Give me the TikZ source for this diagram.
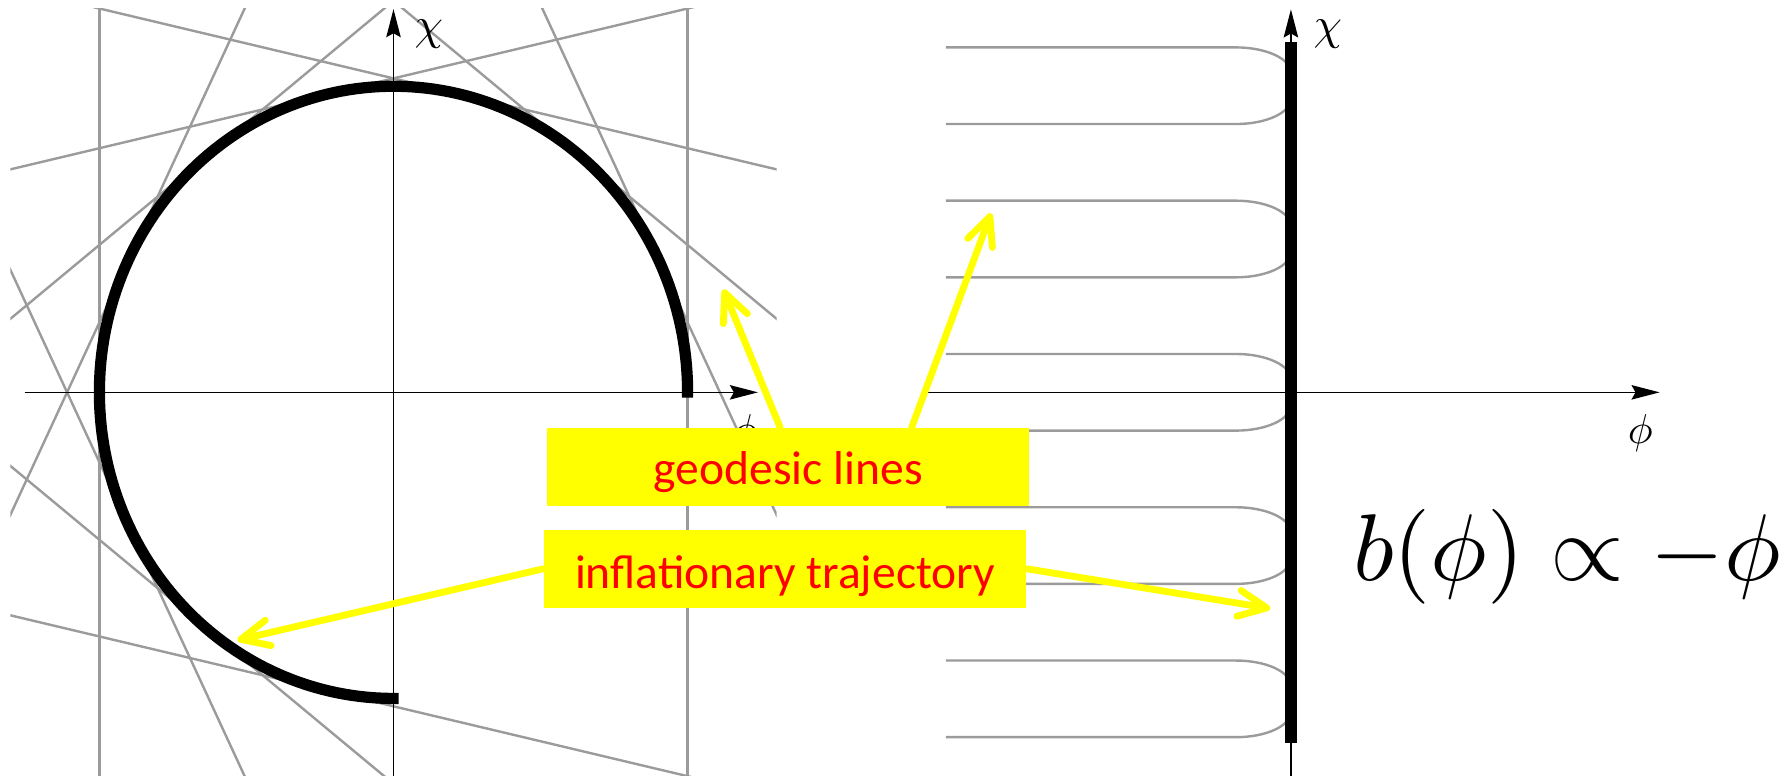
\documentclass[tikz,border=0pt]{standalone}
\usepackage{fontspec}
\newfontfamily\calib{Carlito}
\usepackage{graphicx}
\usetikzlibrary{arrows.meta,calc}
\definecolor{geogray}{RGB}{155,155,155}
\definecolor{hlyellow}{RGB}{255,255,0}
\definecolor{hlred}{RGB}{255,0,0}
\tikzset{
  geo/.style={draw=geogray, line width=0.6pt},
  axisline/.style={draw=black, line width=0.35pt, -{Stealth[length=7pt,width=3.6pt,inset=1pt]}},
  traj/.style={draw=black, line width=2.8pt},
  callbox/.style={fill=hlyellow, text=hlred, inner sep=0pt, font=\calib\fontsize{11.84}{14}\selectfont},
  callout/.style={draw=hlyellow, line width=1.7pt, line cap=round, -{Straight Barb[length=7pt,width=6.5pt,round]}},
  lab/.style={inner sep=0pt}
}
\begin{document}
\begin{tikzpicture}[x=0.01cm, y=-0.01cm]
\useasboundingbox (0,0) rectangle (1568,679);
% ---- left panel: tangent geodesics
\begin{scope}
  \clip (9,7.5) rectangle (680,679);
  \foreach \k in {0,...,10}{
    \pgfmathsetmacro\a{\k*180/7}
    \draw[geo] ({344.5+257.5*cos(\a)+4*257.5*sin(\a)}, {343.5-268*sin(\a)+4*268*cos(\a)})
            -- ({344.5+257.5*cos(\a)-4*257.5*sin(\a)}, {343.5-268*sin(\a)-4*268*cos(\a)});
  }
\end{scope}
% axes left
\coordinate (phiLs) at (21.5,343.5);
\coordinate (phiLe) at (663.6,343.5);
\coordinate (chiLs) at (344.5,679);
\coordinate (chiLe) at (344.5,8);
\draw[axisline] (phiLs) -- (phiLe);
\draw[axisline] (chiLs) -- (chiLe);
\node[lab] (chiL) at (375.5,30) {\scalebox{1.13}{$\chi$}};
\node[lab] (phiL) at (652,379.5) {\scalebox{1.04}{$\phi$}};
% trajectory
\draw[traj] plot[domain=-1:271, samples=181] ({344.5+257.5*cos(\x)}, {343.5-268*sin(\x)});
% ---- right panel: reflected geodesics
\foreach \j in {0,...,4}{
  \pgfmathsetmacro\ya{41.5+134.2*\j}
  \pgfmathsetmacro\yb{\ya+67.1}
  \draw[geo] (828,\ya) -- (1082,\ya) .. controls (1108.5,\ya) and (1130,\ya+9.9) .. (1130,\ya+22)
     -- (1130,\yb-22) .. controls (1130,\yb-9.9) and (1108.5,\yb) .. (1082,\yb) -- (828,\yb);
}
\coordinate (phiRs) at (810,343.5);
\coordinate (phiRe) at (1453,343.5);
\coordinate (chiRs) at (1130.2,679);
\coordinate (chiRe) at (1130.2,8.2);
\coordinate (wallT) at (1130.2,36.5);
\coordinate (wallB) at (1130.2,650.7);
\draw[axisline] (phiRs) -- (phiRe);
\draw[axisline] (chiRs) -- (chiRe);
\draw[traj] (wallT) -- (wallB);
\node[lab] (chiR) at (1162.5,30) {\scalebox{1.13}{$\chi$}};
\node[lab] (phiR) at (1436,379.5) {\scalebox{1.04}{$\phi$}};
\node[lab, anchor=base west] (bphi) at (1184,508) {\scalebox{2.36}{$b(\phi)\propto-\phi$}};
% ---- callouts
\node[callbox, minimum width=4.217cm, text height=0.496cm, text depth=0.182cm] (geo) at (690.2,408.9) {geodesic lines};
\node[callbox, minimum width=4.22cm, text height=0.51cm, text depth=0.17cm] (infl) at (687.3,498) {inflationary trajectory};
\coordinate (t1) at (633.3,253.5);
\coordinate (t2) at (867.7,186.8);
\coordinate (t3) at (208,560.4);
\coordinate (t4) at (1112,532.7);
\draw[callout] ($(geo.north west)!0.483!(geo.north east)$) -- (t1);
\draw[callout] ($(geo.north west)!0.755!(geo.north east)$) -- (t2);
\draw[callout] (infl.west) -- (t3);
\draw[callout] (infl.east) -- (t4);
\end{tikzpicture}
\end{document}
